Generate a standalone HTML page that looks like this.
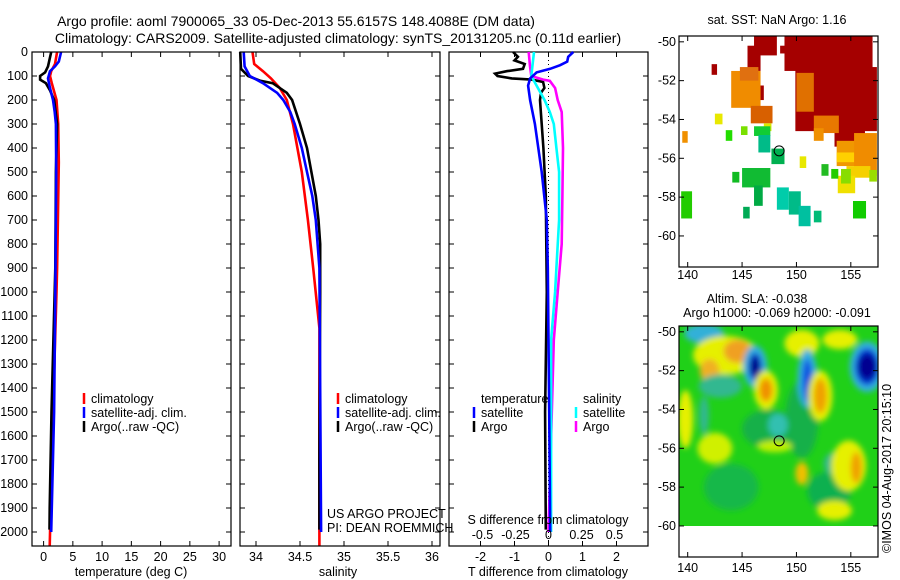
<!DOCTYPE html>
<html><head><meta charset="utf-8">
<style>
html,body{margin:0;padding:0;background:#fff;}
svg{display:block;font-family:"Liberation Sans",sans-serif;}
text{font-size:12.5px;fill:#000;}
.ttl{font-size:14px;}
</style></head>
<body>
<svg id="fig" width="900" height="580" viewBox="0 0 900 580" xmlns="http://www.w3.org/2000/svg">
<defs>
<filter id="blur" x="-50%" y="-50%" width="200%" height="200%"><feGaussianBlur stdDeviation="3"/></filter>
<clipPath id="slaclip"><rect x="679" y="326" width="199" height="200"/></clipPath>
</defs>
<text class="ttl" x="296" y="26" text-anchor="middle">Argo profile: aoml 7900065_33 05-Dec-2013 55.6157S 148.4088E (DM data)</text>
<text class="ttl" x="338" y="43" text-anchor="middle">Climatology: CARS2009. Satellite-adjusted climatology: synTS_20131205.nc (0.11d earlier)</text>
<text x="777" y="24" text-anchor="middle">sat. SST: NaN Argo: 1.16</text>
<text x="757" y="303" text-anchor="middle">Altim. SLA: -0.038</text>
<text x="777" y="317" text-anchor="middle">Argo h1000: -0.069 h2000: -0.091</text>
<text transform="translate(891,553) rotate(-90)">©IMOS 04-Aug-2017 20:15:10</text>
<g id="plots"></g>
</svg>
<script>
// ---- data ----
const depthTicks = [0,100,200,300,400,500,600,700,800,900,1000,1100,1200,1300,1400,1500,1600,1700,1800,1900,2000];
const tempTicks = [0,5,10,15,20,25,30];
const salTicks = [34,34.5,35,35.5,36];
const salTickLabels = ['34','34.5','35','35.5','36'];
const tdTicks = [-2,-1,0,1,2];
const sdTicks = [-0.5,-0.25,0,0.25,0.5];
const sdTickLabels = ['-0.5','-0.25','0','0.25','0.5'];

const tClimDepth = [0,50,80,100,130,160,200,300,460,700,900,1000,1500,2060];
const tClimVal   = [2.3,1.95,1.3,1.1,1.4,1.75,2.2,2.5,2.6,2.45,2.3,2.2,1.6,1.05];
const tSatDepth = [0,40,60,80,110,150,200,250,300,500,1000,1500,2000];
const tSatVal   = [3.0,2.6,1.95,1.1,0.75,1.1,1.6,1.9,2.1,2.15,2.0,1.8,1.3];
const tArgoDepth = [0,60,85,100,115,130,160,200,300,500,900,1500,1900,1990];
const tArgoVal   = [1.3,0.75,0.25,-0.6,-0.6,0.4,1.1,1.8,2.3,2.1,2.0,1.35,1.05,1.0];

const sClimDepth = [0,50,80,110,150,200,300,400,500,700,900,1150,2060];
const sClimVal   = [33.96,33.98,34.08,34.17,34.27,34.35,34.42,34.47,34.52,34.59,34.65,34.72,34.72];
const sSatDepth = [0,60,100,130,170,200,250,300,400,500,600,700,900,2000];
const sSatVal   = [33.86,33.87,33.93,34.08,34.24,34.31,34.39,34.44,34.52,34.58,34.64,34.68,34.72,34.74];
const sArgoDepth = [0,70,100,120,130,170,200,300,400,500,600,700,800,1000,1700,1990];
const sArgoVal   = [33.82,33.83,33.91,34.05,34.19,34.35,34.41,34.50,34.58,34.63,34.68,34.71,34.73,34.73,34.72,34.72];

const tdSatDepth = [0,20,40,55,70,85,110,140,200,300,400,500,700,900,1500,2000];
const tdSatVal   = [0.73,0.58,0.55,0.34,0.05,-0.35,-0.54,-0.6,-0.54,-0.4,-0.3,-0.2,-0.05,-0.02,0.02,0.05];
const tdArgoDepth = [0,20,35,50,70,80,90,100,110,115,125,150,170,200,300,400,600,1000,1500,1990];
const tdArgoVal   = [-1.04,-0.9,-1.0,-0.7,-0.75,-1.23,-1.57,-1.5,-1.08,-0.5,-0.16,-0.12,-0.22,-0.25,-0.2,-0.15,-0.08,-0.05,-0.1,-0.08];
const sdSatDepth = [0,100,150,200,250,300,400,500,700,900,1000,1200,2000];
const sdSatVal   = [-0.11,-0.13,-0.08,-0.03,0.01,0.04,0.06,0.08,0.08,0.06,0.05,0.02,0.02];
const sdArgoDepth = [0,60,100,115,120,150,200,250,400,600,800,1000,1200,2000];
const sdArgoVal   = [-0.15,-0.14,-0.13,-0.04,0.01,0.05,0.07,0.10,0.11,0.105,0.10,0.07,0.04,0.0];

const lonTicks = [140,145,150,155];
const latTicks = [-50,-52,-54,-56,-58,-60];
const sstCells = [
 [146.1,-49.7,148.2,-50.7,'#a50000'],[145.5,-50.2,146.7,-51.5,'#a50000'],[148.5,-50.2,149.2,-50.6,'#a50000'],
 [148.9,-49.7,157.0,-51.5,'#a50000'],[149.9,-51.3,157.4,-54.6,'#a50000'],[153.5,-54.3,156.3,-55.4,'#a50000'],
 [142.2,-51.15,142.7,-51.7,'#a50000'],[146.6,-52.25,147.0,-53.0,'#a50000'],
 [144.0,-51.5,146.7,-53.4,'#f08c00'],[144.8,-51.3,146.5,-52.0,'#e07010'],[145.8,-53.3,147.8,-54.2,'#d86000'],
 [150.0,-51.6,151.6,-53.6,'#e07000'],[151.6,-53.8,153.9,-54.7,'#e87800'],[151.6,-54.45,152.5,-55.1,'#f09000'],
 [153.7,-55.1,155.8,-56.4,'#f09800'],[153.7,-55.7,155.6,-56.2,'#ffd000'],[155.3,-54.7,157.4,-56.9,'#f08c00'],
 [154.6,-56.4,156.8,-57.0,'#f5d000'],[153.8,-56.9,155.4,-57.8,'#f0e000'],[139.5,-54.6,140.0,-55.2,'#f09000'],
 [142.5,-53.7,143.2,-54.25,'#e8e800'],[150.3,-55.9,150.9,-56.5,'#e8e800'],[147.0,-54.2,147.7,-54.6,'#d8e800'],
 [143.5,-54.55,144.1,-55.1,'#22dd00'],[144.9,-54.35,145.5,-54.8,'#7ae000'],[146.1,-54.35,147.6,-54.85,'#11cc33'],
 [146.5,-54.8,147.6,-55.7,'#00bb88'],[147.7,-55.5,148.9,-56.3,'#00b050'],[144.1,-56.7,144.75,-57.25,'#11bb22'],
 [145.0,-56.5,147.6,-57.5,'#11bb33'],[146.1,-57.4,146.9,-58.45,'#00aa44'],[145.1,-58.5,145.7,-59.1,'#00aa55'],
 [148.2,-57.5,149.3,-58.65,'#00ccaa'],[149.3,-57.7,150.4,-58.9,'#00bb88'],[150.2,-58.45,151.3,-59.5,'#00c0a0'],
 [151.6,-58.7,152.3,-59.3,'#00bb77'],[152.3,-56.3,152.95,-56.9,'#22bb22'],[153.2,-56.55,153.85,-57.05,'#22cc00'],
 [154.1,-56.55,155.0,-57.3,'#88dd00'],[155.2,-58.2,156.4,-59.1,'#11cc00'],[139.4,-57.7,140.4,-59.1,'#22cc00'],
 [156.7,-56.6,157.4,-57.2,'#99dd00']
];
const slaBlobs = [
 [147.5,-55.0,2.5,1.0,'#18b048'],[144.0,-58.0,2.5,1.2,'#18b848'],[150.5,-54.5,1.5,2.0,'#18b048'],[153.0,-58.2,2.0,1.0,'#10b050'],
 [141.5,-50.1,1.8,0.5,'#30b0d8'],[143.5,-51.2,3.0,1.0,'#e6f000'],[144.6,-51.0,1.3,0.6,'#f0a020'],[142.0,-52.0,0.9,0.6,'#f0b020'],
 [143.0,-52.8,2.0,0.6,'#30b890'],[150.5,-50.6,1.6,0.7,'#e6f000'],[154.0,-50.4,1.6,0.5,'#e6f000'],
 [146.2,-51.8,1.1,1.1,'#30b0e0'],[146.2,-51.8,0.6,0.7,'#0020c0'],[146.2,-51.8,0.35,0.45,'#000080'],
 [147.2,-53.0,1.1,1.0,'#e6f000'],[147.2,-53.0,0.6,0.6,'#f09000'],
 [151.0,-52.4,0.9,1.5,'#30b0e0'],[151.0,-52.5,0.45,1.1,'#1050e0'],
 [152.2,-53.3,1.1,1.3,'#e6f000'],[152.2,-53.3,0.6,0.9,'#f0a000'],
 [156.5,-51.8,1.6,1.3,'#30b0e0'],[156.5,-51.8,1.1,0.95,'#0030d0'],[156.5,-51.8,0.8,0.65,'#000090'],
 [139.8,-54.5,0.7,1.5,'#e6f000'],[141.5,-54.3,0.45,1.0,'#30b890'],[148.3,-54.8,0.9,0.6,'#30c0b0'],
 [148.0,-55.9,1.6,0.3,'#c0f000'],[142.5,-56.0,1.6,0.8,'#d0f000'],[153.5,-56.8,1.0,0.6,'#30b890'],
 [154.8,-56.9,1.6,1.3,'#e6f000'],[155.5,-57.0,0.5,0.8,'#f0a000'],[150.5,-57.3,0.6,0.6,'#f0c000'],
 [153.5,-59.2,1.6,0.5,'#e6f000']
];
const argoLon = 148.4088, argoLat = -55.6157;

// ---- helpers ----
const NS='http://www.w3.org/2000/svg';
const root=document.getElementById('plots');
function mk(tag,attrs,parent){const e=document.createElementNS(NS,tag);for(const k in attrs)e.setAttribute(k,attrs[k]);(parent||root).appendChild(e);return e;}
const yTop=52, yBot=546, pxPerM=0.24;
function yD(d){return yTop+d*pxPerM;}

function panel(name,x0,x1,xScale,series){
  const g=mk('g',{});
  
  
  series.forEach(s=>{
    const pts=s.d.map((d,i)=>xScale(s.v[i]).toFixed(1)+','+yD(d).toFixed(1)).join(' ');
    const pl=mk('polyline',{points:pts,fill:'none',stroke:s.c,'stroke-width':2.6},g);
    
    
  });
  const fr=mk('rect',{x:x0,y:yTop,width:x1-x0,height:yBot-yTop,fill:'none',stroke:'#000','stroke-width':1.2},g);
  
  
  depthTicks.forEach(d=>{
    mk('line',{x1:x0,x2:x0+5,y1:yD(d),y2:yD(d),stroke:'#000'},g);
    mk('line',{x1:x1,x2:x1-5,y1:yD(d),y2:yD(d),stroke:'#000'},g);
  });
  return g;
}

// Temperature panel
const tx=t=>43.6+5.85*t;
const g1=panel('temperature-panel',32,231,tx,[
 {n:'temp-climatology-line',d:tClimDepth,v:tClimVal,c:'#ff0000'},
 {n:'temp-argo-line',d:tArgoDepth,v:tArgoVal,c:'#000000'},
 {n:'temp-satellite-line',d:tSatDepth,v:tSatVal,c:'#0000ff'}]);
tempTicks.forEach(t=>{
  mk('line',{x1:tx(t),x2:tx(t),y1:yBot,y2:yBot-5,stroke:'#000'},g1);
  mk('line',{x1:tx(t),x2:tx(t),y1:yTop,y2:yTop+5,stroke:'#000'},g1);
  const tl=mk('text',{x:tx(t),y:561,'text-anchor':'middle'},g1);tl.textContent=t;
  
  
});
depthTicks.forEach(d=>{
  const tl=mk('text',{x:28,y:yD(d)+4,'text-anchor':'end'});tl.textContent=d;
  
  
});
const xt1=mk('text',{x:131,y:576,'text-anchor':'middle'});xt1.textContent='temperature (deg C)';



// Salinity panel
const sx=s=>256+88*(s-34);
const g2=panel('salinity-panel',240,440,sx,[
 {n:'sal-climatology-line',d:sClimDepth,v:sClimVal,c:'#ff0000'},
 {n:'sal-argo-line',d:sArgoDepth,v:sArgoVal,c:'#000000'},
 {n:'sal-satellite-line',d:sSatDepth,v:sSatVal,c:'#0000ff'}]);
salTicks.forEach((s,i)=>{
  mk('line',{x1:sx(s),x2:sx(s),y1:yBot,y2:yBot-5,stroke:'#000'},g2);
  mk('line',{x1:sx(s),x2:sx(s),y1:yTop,y2:yTop+5,stroke:'#000'},g2);
  const tl=mk('text',{x:sx(s),y:561,'text-anchor':'middle'},g2);tl.textContent=salTickLabels[i];
  
  
});
const xt2=mk('text',{x:338,y:576,'text-anchor':'middle'});xt2.textContent='salinity';



// Difference panel
const tdx=t=>548.5+34*t;
const sdx=s=>548.5+132*s;
const g3=panel('difference-panel',449,648,tdx,[]);
const diffSeries=[
 {n:'tdiff-argo-line',d:tdArgoDepth,v:tdArgoVal,c:'#000000',f:tdx},
 {n:'sdiff-argo-line',d:sdArgoDepth,v:sdArgoVal,c:'#ff00ff',f:sdx},
 {n:'sdiff-satellite-line',d:sdSatDepth,v:sdSatVal,c:'#00ffff',f:sdx},
 {n:'tdiff-satellite-line',d:tdSatDepth,v:tdSatVal,c:'#0000ff',f:tdx}];
const zl=mk('line',{x1:tdx(0),x2:tdx(0),y1:yTop,y2:yBot,stroke:'#000','stroke-dasharray':'1,3'},g3);


diffSeries.forEach(s=>{
  const pts=s.d.map((d,i)=>s.f(s.v[i]).toFixed(1)+','+yD(d).toFixed(1)).join(' ');
  const pl=mk('polyline',{points:pts,fill:'none',stroke:s.c,'stroke-width':2.6},g3);
  
  
});
tdTicks.forEach(t=>{
  mk('line',{x1:tdx(t),x2:tdx(t),y1:yBot,y2:yBot-5,stroke:'#000'},g3);
  mk('line',{x1:tdx(t),x2:tdx(t),y1:yTop,y2:yTop+5,stroke:'#000'},g3);
  const tl=mk('text',{x:tdx(t),y:561,'text-anchor':'middle'},g3);tl.textContent=t;
  
  
});
sdTicks.forEach((s,i)=>{
  const tl=mk('text',{x:sdx(s),y:539,'text-anchor':'middle'},g3);tl.textContent=sdTickLabels[i];
  
  
});
const st=mk('text',{x:548,y:524,'text-anchor':'middle'});st.textContent='S difference from climatology';


const xt3=mk('text',{x:548,y:576,'text-anchor':'middle'});xt3.textContent='T difference from climatology';



// Legends
function legend(name,x,y,items){
  items.forEach((it,i)=>{
    const yy=y+i*14;
    if(it.c){const m=mk('line',{x1:x,x2:x,y1:yy-10,y2:yy+1,stroke:it.c,'stroke-width':2.5});
      
      }
    const t=mk('text',{x:x+7,y:yy});t.textContent=it.t;
    
    
  });
}
legend('temp-legend',84,403,[{t:'climatology',c:'#f00'},{t:'satellite-adj. clim.',c:'#00f'},{t:'Argo(..raw -QC)',c:'#000'}]);
legend('sal-legend',338,403,[{t:'climatology',c:'#f00'},{t:'satellite-adj. clim.',c:'#00f'},{t:'Argo(..raw -QC)',c:'#000'}]);
legend('tdiff-legend',474,403,[{t:'temperature'},{t:'satellite',c:'#00f'},{t:'Argo',c:'#000'}]);
legend('sdiff-legend',576,403,[{t:'salinity'},{t:'satellite',c:'#0ff'},{t:'Argo',c:'#f0f'}]);
const us=mk('text',{x:327,y:518});us.textContent='US ARGO PROJECT';


const pi=mk('text',{x:327,y:532});pi.textContent='PI: DEAN ROEMMICH';



// Maps
function mapAxes(name,top,bot,latTop,latBot){
  const x0=679,x1=878,lon0=139.2,lon1=157.5;
  const lx=l=>x0+(l-lon0)*(x1-x0)/(lon1-lon0);
  const ly=l=>top+(latTop-l)*(bot-top)/(latTop-latBot);
  return {x0,x1,lx,ly,top,bot};
}
function mapFrame(name,m,labelY){
  const g=mk('g',{});
  
  
  mk('rect',{x:m.x0,y:m.top,width:m.x1-m.x0,height:m.bot-m.top,fill:'none',stroke:'#000','stroke-width':1.2},g);
  lonTicks.forEach(l=>{
    mk('line',{x1:m.lx(l),x2:m.lx(l),y1:m.bot,y2:m.bot-5,stroke:'#000'},g);
    mk('line',{x1:m.lx(l),x2:m.lx(l),y1:m.top,y2:m.top+5,stroke:'#000'},g);
    const t=mk('text',{x:m.lx(l),y:labelY,'text-anchor':'middle'},g);t.textContent=l;
    
    
  });
  latTicks.forEach(l=>{
    mk('line',{x1:m.x0,x2:m.x0+5,y1:m.ly(l),y2:m.ly(l),stroke:'#000'},g);
    mk('line',{x1:m.x1,x2:m.x1-5,y1:m.ly(l),y2:m.ly(l),stroke:'#000'},g);
    const t=mk('text',{x:m.x0-3,y:m.ly(l)+4,'text-anchor':'end'},g);t.textContent=l;
    
    
  });
  const c=mk('circle',{cx:m.lx(argoLon),cy:m.ly(argoLat),r:5,fill:'none',stroke:'#000'},g);
  
  
}
const m1=mapAxes('sst',36,267,-49.7,-61.6);
const gs=mk('g',{});


sstCells.forEach(c=>{
  const r=mk('rect',{x:m1.lx(c[0]),y:m1.ly(c[1]),width:m1.lx(c[2])-m1.lx(c[0]),height:m1.ly(c[3])-m1.ly(c[1]),fill:c[4]},gs);
  
  
});
mapFrame('sst-map',m1,279);

const m2=mapAxes('sla',326,557,-49.7,-61.6);
const gl=mk('g',{'clip-path':'url(#slaclip)'});


mk('rect',{x:679,y:326,width:199,height:200,fill:'#20d018'},gl);
const gb=mk('g',{filter:'url(#blur)'},gl);
slaBlobs.forEach(b=>{
  const e=mk('ellipse',{cx:m2.lx(b[0]),cy:m2.ly(b[1]),rx:b[2]*10.9,ry:b[3]*19.4,fill:b[4]},gb);
  
  
});
mapFrame('sla-map',m2,572);
</script>
</body></html>
